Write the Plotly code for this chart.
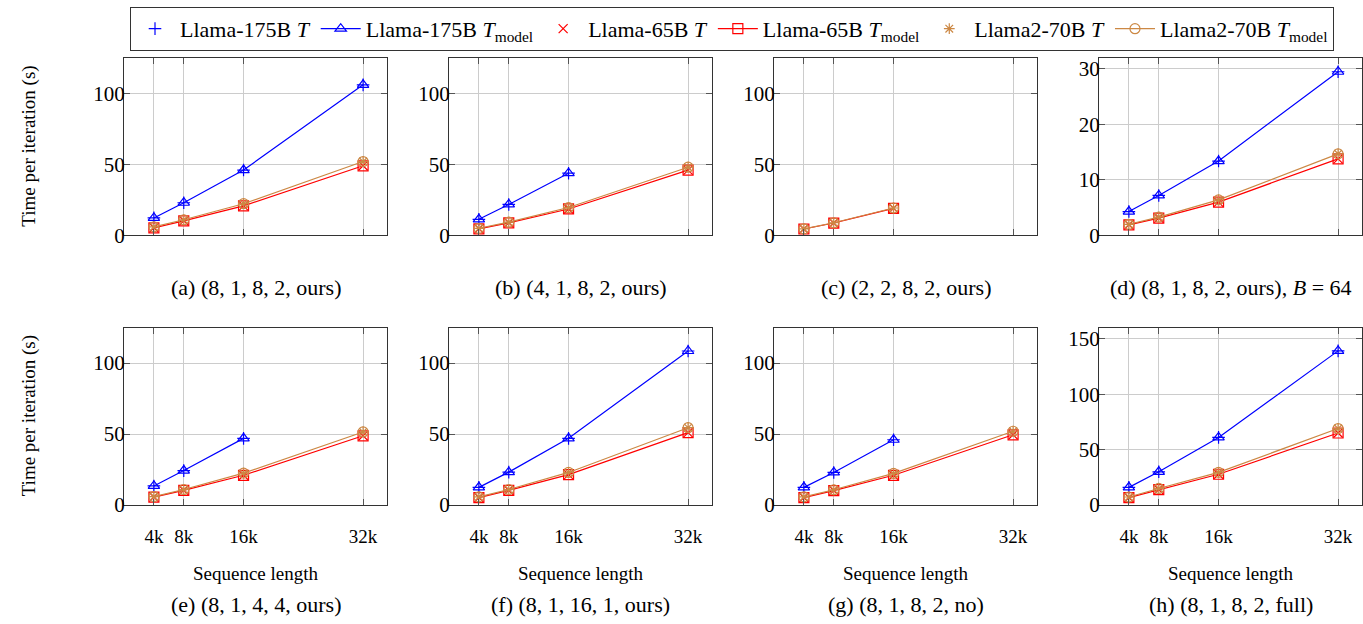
import plotly.graph_objects as go

# Sequence lengths (thousands of tokens) and their tick labels
seq_len = [4, 8, 16, 32]
seq_labels = ["4k", "8k", "16k", "32k"]

panel_captions = [
    "(a) (8, 1, 8, 2, ours)",
    "(b) (4, 1, 8, 2, ours)",
    "(c) (2, 2, 8, 2, ours)",
    "(d) (8, 1, 8, 2, ours), <i>B</i> = 64",
    "(e) (8, 1, 4, 4, ours)",
    "(f) (8, 1, 16, 1, ours)",
    "(g) (8, 1, 8, 2, no)",
    "(h) (8, 1, 8, 2, full)",
]

# Time per iteration (s), one row per panel (a)..(h)
llama175_t = [
    [12.3, 23.0, 46.0, 106.0],
    [11.3, 21.8, 43.8, None],
    [None, None, None, None],
    [4.3, 7.2, 13.4, 29.5],
    [13.5, 24.3, 47.0, None],
    [12.5, 23.2, 47.0, 108.5],
    [12.5, 23.0, 46.0, None],
    [16.0, 30.0, 61.0, 139.0],
]
llama175_tmodel = [
    [12.3, 23.0, 46.0, 106.0],
    [11.3, 21.8, 43.8, None],
    [None, None, None, None],
    [4.3, 7.2, 13.4, 29.5],
    [13.5, 24.3, 47.0, None],
    [12.5, 23.2, 47.0, 108.5],
    [12.5, 23.0, 46.0, None],
    [16.0, 30.0, 61.0, 139.0],
]
llama65_t = [
    [5.3, 10.2, 20.8, 49.0],
    [4.6, 8.8, 18.6, 46.0],
    [4.5, 8.7, 19.0, None],
    [1.9, 3.1, 6.0, 13.8],
    [5.6, 10.4, 21.0, 48.8],
    [5.3, 10.4, 21.5, 51.0],
    [5.3, 10.2, 21.0, 49.5],
    [6.8, 14.0, 27.8, 65.0],
]
llama65_tmodel = [
    [5.3, 10.2, 20.8, 49.0],
    [4.6, 8.8, 18.6, 46.0],
    [4.5, 8.7, 19.0, None],
    [1.9, 3.1, 6.0, 13.8],
    [5.6, 10.4, 21.0, 48.8],
    [5.3, 10.4, 21.5, 51.0],
    [5.3, 10.2, 21.0, 49.5],
    [6.8, 14.0, 27.8, 65.0],
]
llama2_70_t = [
    [6.0, 11.0, 22.3, 52.0],
    [5.0, 9.3, 19.6, 48.0],
    [4.6, 8.9, 19.3, None],
    [2.0, 3.3, 6.4, 14.7],
    [6.0, 11.0, 22.5, 51.5],
    [5.8, 11.0, 23.0, 54.5],
    [5.8, 10.8, 22.3, 52.0],
    [7.3, 15.0, 29.5, 69.0],
]
llama2_70_tmodel = [
    [6.0, 11.0, 22.3, 52.0],
    [5.0, 9.3, 19.6, 48.0],
    [4.6, 8.9, 19.3, None],
    [2.0, 3.3, 6.4, 14.7],
    [6.0, 11.0, 22.5, 51.5],
    [5.8, 11.0, 23.0, 54.5],
    [5.8, 10.8, 22.3, 52.0],
    [7.3, 15.0, 29.5, 69.0],
]

y_max = [125, 125, 125, 32, 125, 125, 125, 160]
y_ticks = [[0, 50, 100]] * 3 + [[0, 10, 20, 30]] + [[0, 50, 100]] * 3 + [[0, 50, 100, 150]]

BLUE = "#0000ff"
RED = "#ff0000"
TAN = "#cc8844"
FONT = "Liberation Serif"
W, H = 1363, 624

series = [
    ("Llama-175B <i>T</i>", llama175_t, BLUE, "cross-thin", False),
    ("Llama-175B <i>T</i><sub>model</sub>", llama175_tmodel, BLUE, "triangle-up-open", True),
    ("Llama-65B <i>T</i>", llama65_t, RED, "x-thin", False),
    ("Llama-65B <i>T</i><sub>model</sub>", llama65_tmodel, RED, "square-open", True),
    ("Llama2-70B <i>T</i>", llama2_70_t, TAN, "asterisk", False),
    ("Llama2-70B <i>T</i><sub>model</sub>", llama2_70_tmodel, TAN, "circle-open", True),
]

fig = go.Figure()

col_left = [124, 449, 774, 1099]
panel_w = 263
row_top = [59, 334]
panel_h = 181

annotations = []
for p in range(8):
    r, c = divmod(p, 4)
    ax = "" if p == 0 else str(p + 1)
    x0, x1 = col_left[c], col_left[c] + panel_w
    y0, y1 = row_top[r], row_top[r] + panel_h
    xdom = [x0 / W, x1 / W]
    ydom = [1 - y1 / H, 1 - y0 / H]

    for name, data, color, sym, has_line in series:
        vals = data[p]
        if all(v is None for v in vals):
            continue
        if has_line:
            tr = go.Scatter(
                x=seq_len, y=vals, mode="lines+markers", name=name,
                line=dict(color=color, width=1.2),
                marker=dict(symbol=sym, size=10, color=color, line=dict(color=color, width=1.2)),
            )
        else:
            tr = go.Scatter(
                x=seq_len, y=vals, mode="markers", name=name,
                marker=dict(symbol=sym, size=9, color=color, line=dict(color=color, width=1.2)),
            )
        tr.update(xaxis="x" + ax, yaxis="y" + ax, showlegend=(p == 0), legendgroup=name)
        fig.add_trace(tr)

    axis_common = dict(
        showline=True, linecolor="#333333", linewidth=1.2, mirror="allticks",
        ticks="inside", ticklen=6, tickcolor="#555555", tickwidth=1,
        showgrid=True, gridcolor="#cccccc", gridwidth=1, zeroline=False,
    )
    fig.layout["xaxis" + ax] = dict(
        axis_common, domain=xdom, range=[0, 35.2], anchor="y" + ax,
        tickvals=seq_len, ticktext=seq_labels, showticklabels=(r == 1),
        ticklabelstandoff=14,
        tickfont=dict(family=FONT, size=19, color="black"),
    )
    fig.layout["yaxis" + ax] = dict(
        axis_common, domain=ydom, range=[0, y_max[p]], anchor="x" + ax,
        tickvals=y_ticks[p], ticklabelstandoff=-6,
        tickfont=dict(family=FONT, size=21, color="black"),
    )

    cx = (x0 + x1) / 2 / W
    if r == 0:
        annotations.append(dict(text=panel_captions[p], x=cx, y=1 - 293 / H, size=22))
    else:
        annotations.append(dict(text="Sequence length", x=cx, y=1 - 585 / H, size=19))
        annotations.append(dict(text=panel_captions[p], x=cx, y=1 - 616 / H, size=22))

for ypx in (149.5, 424.5):
    annotations.append(dict(text="Time per iteration (s)", x=29 / W, y=1 - ypx / H,
                            textangle=-90, size=19))

for a in annotations:
    size = a.pop("size")
    a.update(xref="paper", yref="paper", showarrow=False, xanchor="center", yanchor="middle",
             font=dict(family=FONT, size=size, color="black"))

fig.update_layout(
    width=W, height=H,
    margin=dict(l=0, r=0, t=0, b=0),
    paper_bgcolor="white", plot_bgcolor="white",
    font=dict(family=FONT, size=19, color="black"),
    annotations=annotations,
    legend=dict(
        orientation="h", x=732 / W, y=1 - 7 / H, xanchor="center", yanchor="top",
        bordercolor="#333333", borderwidth=1, bgcolor="white",
        font=dict(family=FONT, size=22, color="black"),
        itemwidth=40, tracegroupgap=0,
    ),
)

fig.write_html("out.html")
